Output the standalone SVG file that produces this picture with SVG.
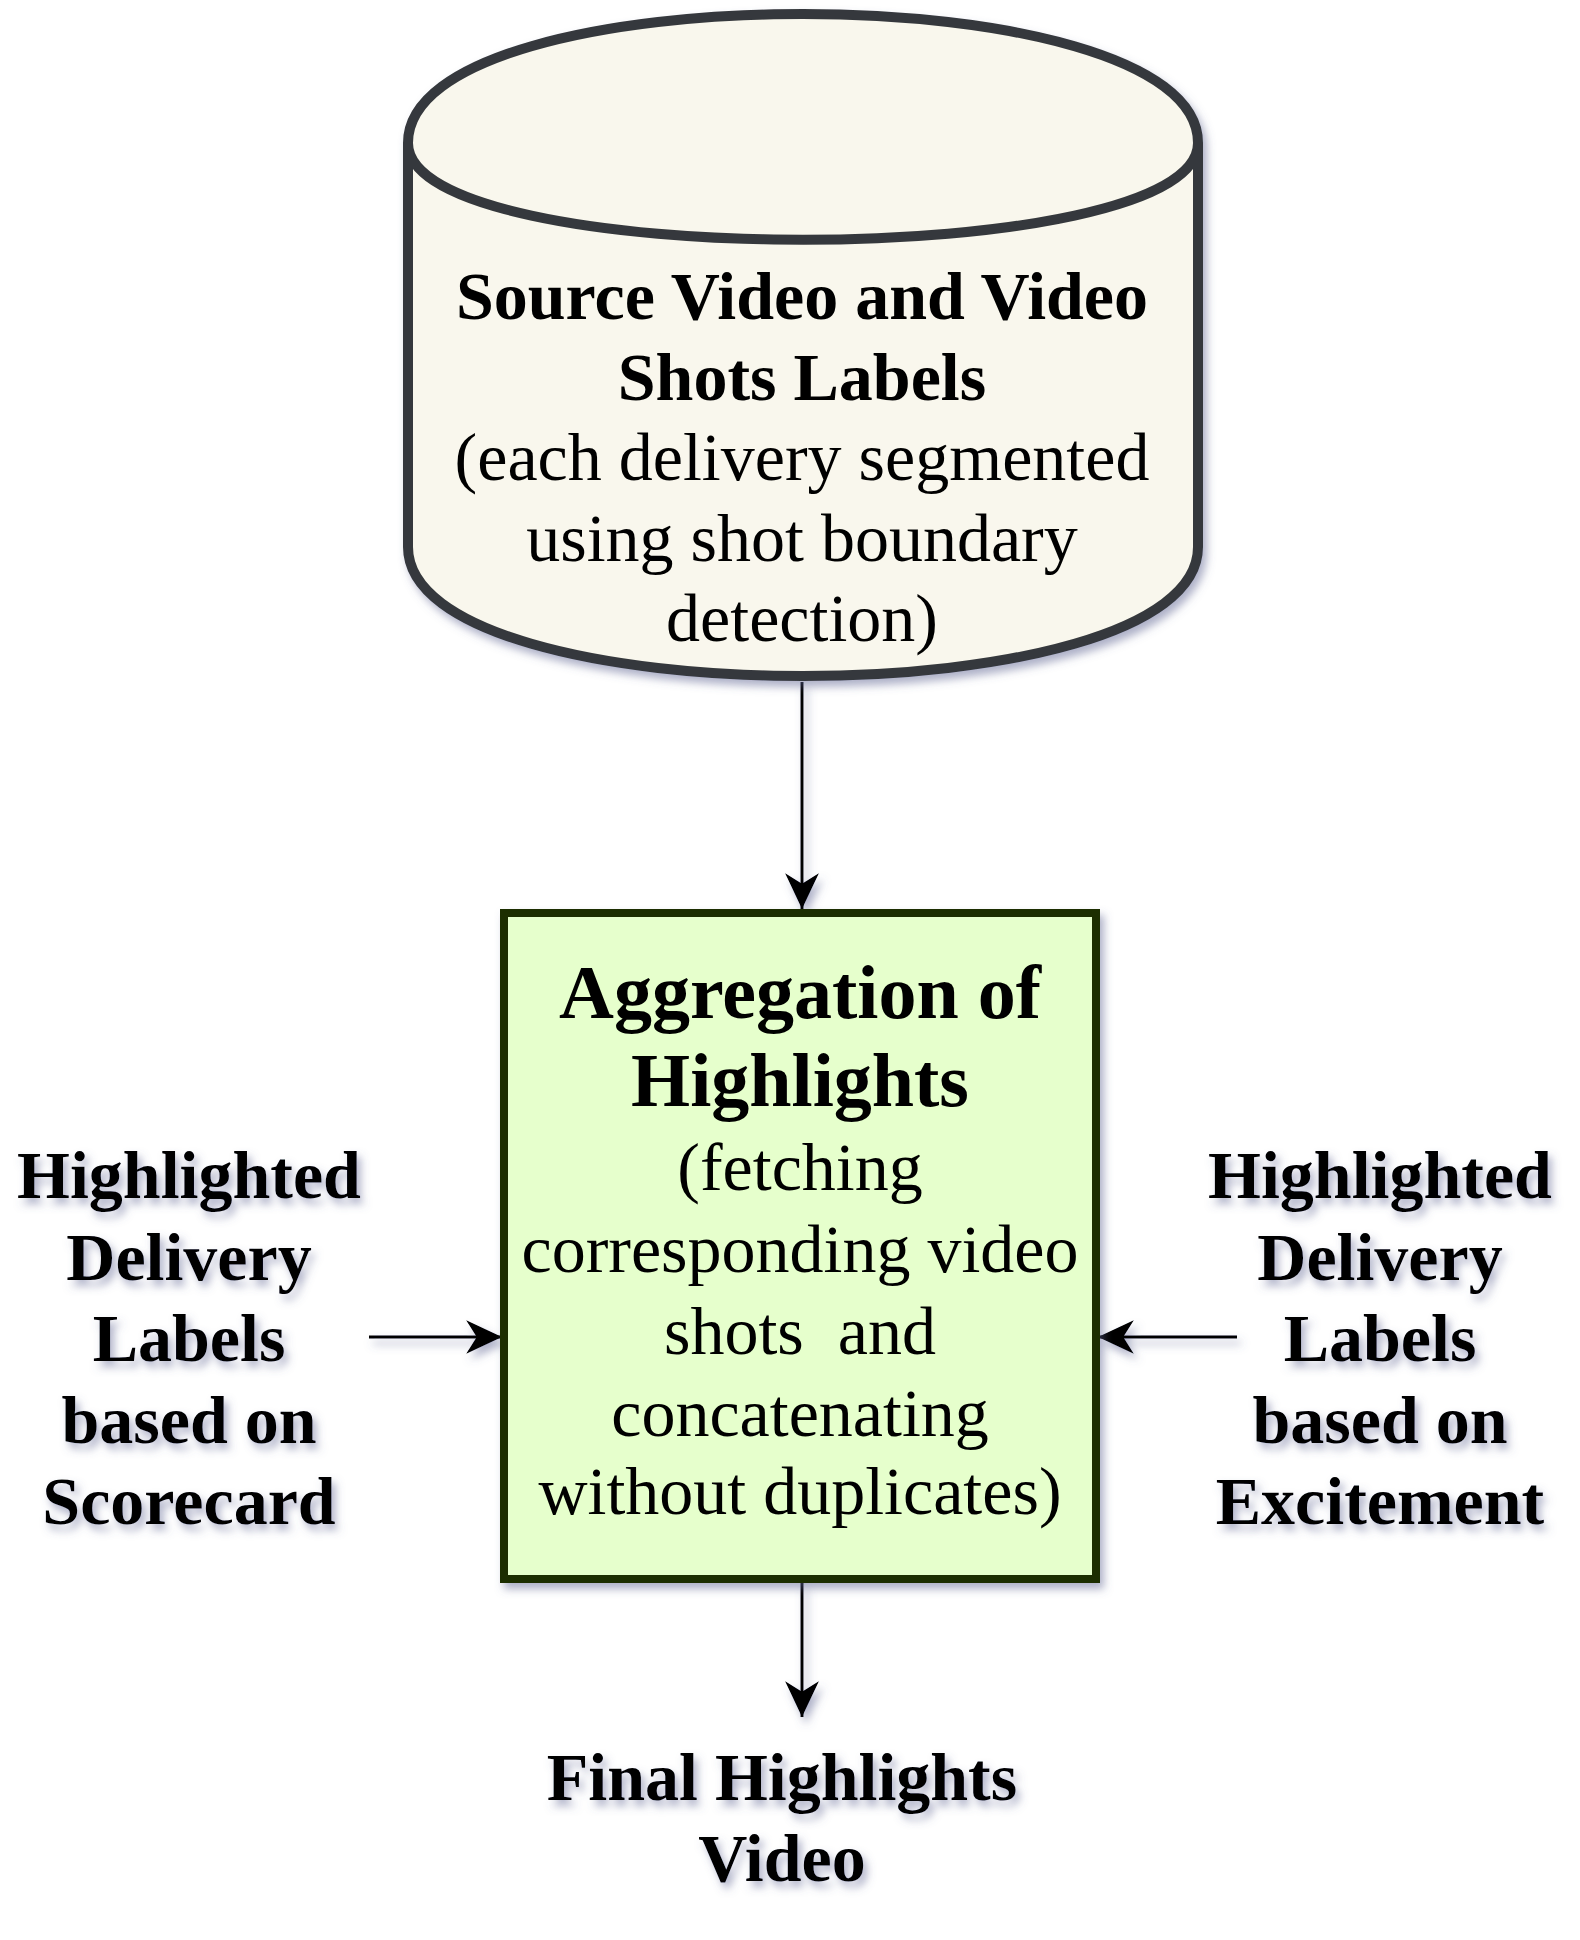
<svg xmlns="http://www.w3.org/2000/svg" width="1580" height="1940" viewBox="0 0 1580 1940">
<style>
.b{font-family:"Liberation Serif","Times New Roman",serif;font-weight:bold;font-size:68px;fill:#000;text-anchor:middle}
.r{font-family:"Liberation Serif","Times New Roman",serif;font-size:68px;fill:#000;text-anchor:middle}
.t{font-size:76px}
.conn{stroke:#000;stroke-width:3;fill:none}
</style>
<defs>
<filter id="sh" x="-20%" y="-20%" width="140%" height="140%">
<feDropShadow dx="4" dy="6" stdDeviation="4" flood-color="#5c6490" flood-opacity="0.5"/>
</filter>
<marker id="arr" markerUnits="userSpaceOnUse" markerWidth="40" markerHeight="40" viewBox="-36 -18 38 36" refX="0" refY="0" orient="auto">
<path d="M0,0 L-34,-16 L-24,0 L-34,16 Z" fill="#000"/>
</marker>
</defs>
<rect width="1580" height="1940" fill="#fff"/>
<g id="connectors" filter="url(#sh)">
<line class="conn" x1="802" y1="682" x2="802" y2="909" marker-end="url(#arr)"/>
<line class="conn" x1="369" y1="1337" x2="502" y2="1337" marker-end="url(#arr)"/>
<line class="conn" x1="1237" y1="1337" x2="1098" y2="1337" marker-end="url(#arr)"/>
<line class="conn" x1="802" y1="1583" x2="802" y2="1717" marker-end="url(#arr)"/>
</g>
<g id="source" filter="url(#sh)">
<path d="M408,143 C408,-29 1198,-29 1198,143 L1198,547 C1198,719 408,719 408,547 Z" fill="#f9f7ed" stroke="#36393d" stroke-width="10"/>
<path d="M408,143 C408,272 1198,272 1198,143" fill="none" stroke="#36393d" stroke-width="10"/>
</g>
<g id="source-text">
<text class="b" x="802" y="319">Source Video and Video</text>
<text class="b" x="802" y="400">Shots Labels</text>
<text class="r" x="802" y="480">(each delivery segmented</text>
<text class="r" x="802" y="561">using shot boundary</text>
<text class="r" x="802" y="641">detection)</text>
</g>
<g id="aggregation">
<rect x="504" y="913" width="592" height="666" fill="#e6ffcc" stroke="#1f2d06" stroke-width="8" filter="url(#sh)"/>
<text class="b t" x="800" y="1018">Aggregation of</text>
<text class="b t" x="800" y="1106">Highlights</text>
<text class="r" x="800" y="1190">(fetching</text>
<text class="r" x="800" y="1272">corresponding video</text>
<text class="r" x="800" y="1354" xml:space="preserve">shots  and</text>
<text class="r" x="800" y="1436">concatenating</text>
<text class="r" x="800" y="1514">without duplicates)</text>
</g>
<g id="scorecard" filter="url(#sh)">
<text class="b" x="189" y="1198">Highlighted</text>
<text class="b" x="189" y="1280">Delivery</text>
<text class="b" x="189" y="1361">Labels</text>
<text class="b" x="189" y="1443">based on</text>
<text class="b" x="189" y="1524">Scorecard</text>
</g>
<g id="excitement" filter="url(#sh)">
<text class="b" x="1380" y="1198">Highlighted</text>
<text class="b" x="1380" y="1280">Delivery</text>
<text class="b" x="1380" y="1361">Labels</text>
<text class="b" x="1380" y="1443">based on</text>
<text class="b" x="1380" y="1524">Excitement</text>
</g>
<g id="final" filter="url(#sh)">
<text class="b" x="782" y="1800">Final Highlights</text>
<text class="b" x="782" y="1881">Video</text>
</g>
</svg>
